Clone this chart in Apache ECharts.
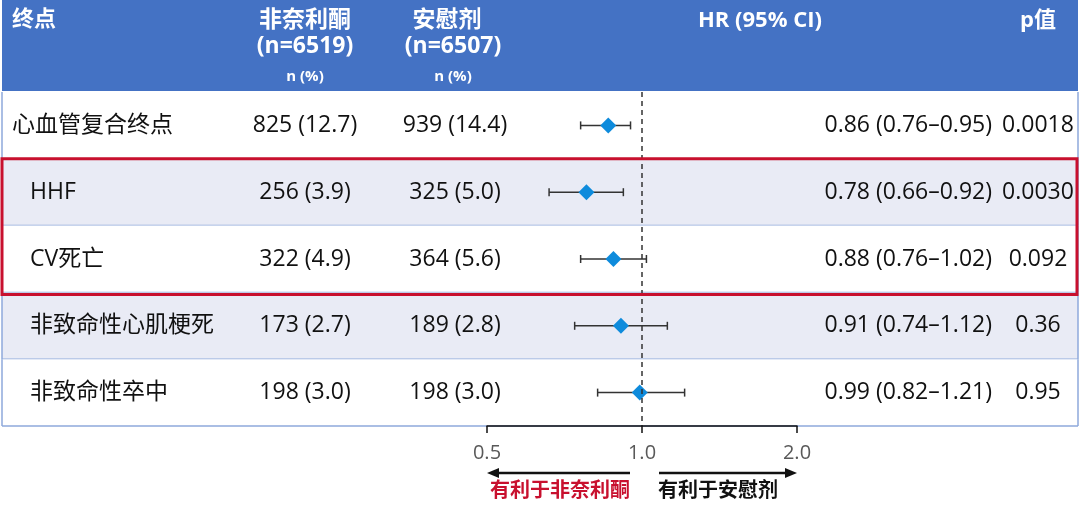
<!DOCTYPE html>
<html>
<head>
<meta charset="utf-8">
<script src="https://cdn.jsdelivr.net/npm/echarts@6.0.0/dist/echarts.min.js"></script>
<style>
  html, body { margin: 0; padding: 0; background: #fff; }
  #main { width: 1080px; height: 516px; }
</style>
</head>
<body>
<div id="main"></div>
<script>
// data
const endpoints = ['心血管复合终点', 'HHF', 'CV死亡', '非致命性心肌梗死', '非致命性卒中'];
const finCount = [825, 256, 322, 173, 198];
const finPct = [12.7, 3.9, 4.9, 2.7, 3.0];
const plaCount = [939, 325, 364, 189, 198];
const plaPct = [14.4, 5.0, 5.6, 2.8, 3.0];
const hr = [0.86, 0.78, 0.88, 0.91, 0.99];
const ciLow = [0.76, 0.66, 0.76, 0.74, 0.82];
const ciHigh = [0.95, 0.92, 1.02, 1.12, 1.21];
const pValues = ['0.0018', '0.0030', '0.092', '0.36', '0.95'];
const xTicks = [0.5, 1.0, 2.0];
const boxedRows = [1, 2];

const FONT = "'Open Sans', 'Noto Sans CJK SC', sans-serif";
const BLUE = '#4472C4';
const RED = '#C8102E';
const LINE_BLUE = '#8EA9DB';

var chart = echarts.init(document.getElementById('main'));

function headerText(text, x, y, size, align) {
  return {
    type: 'text',
    z: 10,
    style: {
      text: text, x: x, y: y,
      fill: '#fff',
      font: 'bold ' + size + 'px ' + FONT,
      align: align || 'center',
      verticalAlign: 'middle'
    }
  };
}

function cellText(text, x, y, align) {
  return {
    type: 'text',
    style: {
      text: text, x: x, y: y,
      fill: '#111',
      font: '23px ' + FONT,
      align: align,
      verticalAlign: 'middle'
    }
  };
}

var option = {
  animation: false,
  grid: { left: 487, right: 283, top: 92, bottom: 90 },
  xAxis: {
    type: 'log',
    logBase: 2,
    min: xTicks[0],
    max: xTicks[xTicks.length - 1],
    z: 10,
    axisLine: { show: true, lineStyle: { color: '#111', width: 1.5 } },
    axisTick: { show: true, length: 7, lineStyle: { color: '#111', width: 1.5 } },
    axisLabel: {
      color: '#595959',
      fontSize: 20,
      fontFamily: FONT,
      margin: 17,
      formatter: function (v) { return v.toFixed(1); }
    },
    splitLine: { show: false },
    minorTick: { show: false }
  },
  yAxis: {
    type: 'category',
    data: endpoints,
    inverse: true,
    show: false
  },
  graphic: [
    { type: 'rect', z: 5, shape: { x: 2, y: 0, width: 1076, height: 91 }, style: { fill: BLUE } },
    headerText('终点', 12, 20, 22, 'left'),
    headerText('非奈利酮', 305, 20, 23),
    headerText('(n=6519)', 305, 46, 23),
    headerText('n (%)', 305, 77, 15),
    headerText('安慰剂', 447, 20, 23),
    headerText('(n=6507)', 453, 46, 23),
    headerText('n (%)', 453, 77, 15),
    headerText('HR (95% CI)', 760, 21, 22),
    headerText('p值', 1038, 21, 22)
  ],
  series: [
    {
      // table rows: background, separators, text columns
      type: 'custom',
      z: 1,
      silent: true,
      clip: false,
      encode: { x: 0, y: 1 },
      data: endpoints.map(function (_, i) { return [1, i]; }),
      renderItem: function (params, api) {
        var i = api.value(1);
        var c = api.coord([1, i]);
        var h = api.size([0, 1])[1];
        var top = c[1] - h / 2;
        var y = c[1];
        return {
          type: 'group',
          children: [
            { type: 'rect', shape: { x: 2, y: top, width: 1076, height: h },
              style: { fill: i % 2 ? '#E9EBF5' : '#fff' } },
            { type: 'line', shape: { x1: 2, y1: top + h, x2: 1078, y2: top + h },
              style: { stroke: LINE_BLUE, lineWidth: 1.5 } },
            { type: 'line', shape: { x1: 2, y1: top, x2: 2, y2: top + h },
              style: { stroke: LINE_BLUE, lineWidth: 1.5 } },
            { type: 'line', shape: { x1: 1078, y1: top, x2: 1078, y2: top + h },
              style: { stroke: LINE_BLUE, lineWidth: 1.5 } },
            cellText(endpoints[i], i === 0 ? 12 : 30, y, 'left'),
            cellText(finCount[i] + ' (' + finPct[i].toFixed(1) + ')', 305, y, 'center'),
            cellText(plaCount[i] + ' (' + plaPct[i].toFixed(1) + ')', 455, y, 'center'),
            cellText(hr[i].toFixed(2) + ' (' + ciLow[i].toFixed(2) + '–' + ciHigh[i].toFixed(2) + ')', 992, y, 'right'),
            cellText(pValues[i], 1038, y, 'center')
          ]
        };
      }
    },
    {
      // reference line at HR = 1
      type: 'line',
      z: 2,
      data: [],
      markLine: {
        silent: true,
        symbol: 'none',
        label: { show: false },
        lineStyle: { type: [5, 4], color: '#333', width: 1.5 },
        data: [{ xAxis: 1 }]
      }
    },
    {
      // 95% CI whiskers
      type: 'custom',
      z: 3,
      silent: true,
      encode: { x: [0, 1], y: 2 },
      data: ciLow.map(function (lo, i) { return [lo, ciHigh[i], i]; }),
      renderItem: function (params, api) {
        var a = api.coord([api.value(0), api.value(2)]);
        var b = api.coord([api.value(1), api.value(2)]);
        var s = { stroke: '#333', lineWidth: 1.5 };
        return {
          type: 'group',
          children: [
            { type: 'line', shape: { x1: a[0], y1: a[1], x2: b[0], y2: b[1] }, style: s },
            { type: 'line', shape: { x1: a[0], y1: a[1] - 4, x2: a[0], y2: a[1] + 4 }, style: s },
            { type: 'line', shape: { x1: b[0], y1: b[1] - 4, x2: b[0], y2: b[1] + 4 }, style: s }
          ]
        };
      }
    },
    {
      type: 'scatter',
      z: 4,
      symbol: 'diamond',
      symbolSize: [16, 16],
      itemStyle: { color: '#0E8BDC', opacity: 1 },
      data: hr.map(function (v, i) { return [v, i]; })
    }
  ]
};

chart.setOption(option);

// red highlight box and favour arrows, placed from the axes
var p0 = chart.convertToPixel({ gridIndex: 0 }, [1, boxedRows[0]]);
var p1 = chart.convertToPixel({ gridIndex: 0 }, [1, boxedRows[boxedRows.length - 1]]);
var rowH = chart.convertToPixel({ gridIndex: 0 }, [1, 1])[1] - chart.convertToPixel({ gridIndex: 0 }, [1, 0])[1];
var xLo = chart.convertToPixel({ xAxisIndex: 0 }, xTicks[0]);
var xMid = chart.convertToPixel({ xAxisIndex: 0 }, xTicks[1]);
var xHi = chart.convertToPixel({ xAxisIndex: 0 }, xTicks[2]);
var arrowY = 473;
var labelY = 491;

var extra = [
  { type: 'rect', z: 20, shape: { x: 2, y: p0[1] - rowH / 2, width: 1075, height: p1[1] - p0[1] + rowH + 2 },
    style: { fill: 'none', stroke: RED, lineWidth: 3 } },
  { type: 'line', z: 20, shape: { x1: xMid - 12, y1: arrowY, x2: xLo + 8, y2: arrowY },
    style: { stroke: '#111', lineWidth: 2.5 } },
  { type: 'polygon', z: 20, shape: { points: [[xLo, arrowY], [xLo + 12, arrowY - 5], [xLo + 12, arrowY + 5]] },
    style: { fill: '#111' } },
  { type: 'line', z: 20, shape: { x1: xMid + 17, y1: arrowY, x2: xHi - 8, y2: arrowY },
    style: { stroke: '#111', lineWidth: 2.5 } },
  { type: 'polygon', z: 20, shape: { points: [[xHi, arrowY], [xHi - 12, arrowY - 5], [xHi - 12, arrowY + 5]] },
    style: { fill: '#111' } },
  { type: 'text', z: 20, style: { text: '有利于非奈利酮', x: xMid - 12, y: labelY, align: 'right', verticalAlign: 'middle',
    fill: RED, font: 'bold 20px ' + FONT } },
  { type: 'text', z: 20, style: { text: '有利于安慰剂', x: xMid + 16, y: labelY, align: 'left', verticalAlign: 'middle',
    fill: '#111', font: 'bold 20px ' + FONT } }
];

chart.setOption({ graphic: option.graphic.concat(extra) });
</script>
</body>
</html>
